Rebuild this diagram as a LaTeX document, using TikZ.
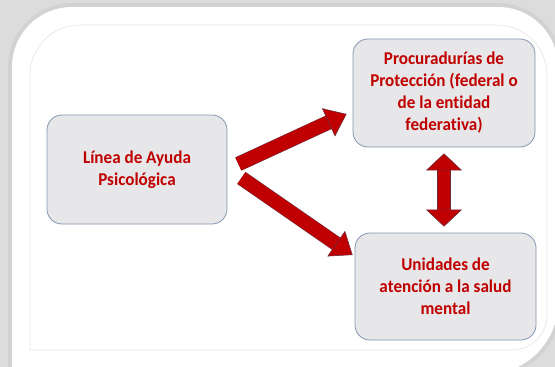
\documentclass[tikz,border=0pt]{standalone}
\usepackage{fontspec}
\setmainfont{Carlito}[Ligatures=NoCommon,FakeStretch=0.95]
\usepackage{tikz}
\usetikzlibrary{arrows.meta,positioning,calc}
\usepackage{xcolor}
\definecolor{Text}{HTML}{C00000}
\definecolor{Arrow}{HTML}{C00000}
\definecolor{Edge}{HTML}{6E2A3A}
\definecolor{Rule}{HTML}{8497B0}
\definecolor{Panel}{HTML}{E7E6E8}
\definecolor{Back}{HTML}{DCDCDC}
\definecolor{Frame}{HTML}{E4E4E4}

\begin{document}
\begin{tikzpicture}[
  x=1pt,y=-1pt,
  box/.style={draw=Rule,line width=0.8pt,rounded corners=15pt,fill=Panel,align=center,
    font=\fontsize{18}{22}\selectfont\bfseries,text=Text,inner sep=0pt},
  arrow/.style={draw=Edge,line width=0.6pt,double=Arrow,double distance=13.5pt,
    -{Triangle[length=20pt,width=31pt,line width=0.6pt,fill=Arrow]}},
  twoway/.style={draw=Edge,line width=0.6pt,double=Arrow,double distance=12pt,
    {Triangle[length=17pt,width=36pt,line width=0.6pt,fill=Arrow]}-{Triangle[length=17pt,width=36pt,line width=0.6pt,fill=Arrow]}}
]
\useasboundingbox (0,0) rectangle (555,367);
% card with shadow
\fill[Back] (0,0) rectangle (555,367);
\draw[line width=8pt,draw=gray!35] (12,390) [rounded corners=60pt] -- (12,7) -- (558,7) [rounded corners=69pt] -- (558,372) [sharp corners] -- (12,390);
\fill[white] (12,390) [rounded corners=60pt] -- (12,7) -- (558,7) [rounded corners=69pt] -- (558,372) [sharp corners] -- (12,390);
\draw[Frame,line width=0.6pt] (30,350) [rounded corners=50pt] -- (30,25) -- (547,25) [rounded corners=35pt] -- (547,350) [sharp corners] -- cycle;

\node[box,minimum width=180pt,minimum height=109pt] (linea) at (137,169.5) {Línea de Ayuda\\Psicológica};
\node[box,minimum width=182pt,minimum height=108pt] (procu) at (444,93) {Procuradurías de\\Protección (federal o\\de la entidad\\federativa)};
\node[box,minimum width=181pt,minimum height=107pt] (unidad) at (445.5,286.5) {Unidades de\\atención a la salud\\mental};

\coordinate (up1) at ($(linea.east)+(11,-5.5)$);
\coordinate (up2) at ($(procu.west)+(-6,21)$);
\coordinate (dn1) at ($(linea.east)+(14,8.5)$);
\coordinate (dn2) at ($(unidad.west)+(-2,-31.5)$);

\draw[arrow] (up1)--(up2);
\draw[arrow] (dn1)--(dn2);
\draw[twoway,shorten <=6pt,shorten >=6pt] (procu.south)--(procu.south |- unidad.north);
\end{tikzpicture}
\end{document}
